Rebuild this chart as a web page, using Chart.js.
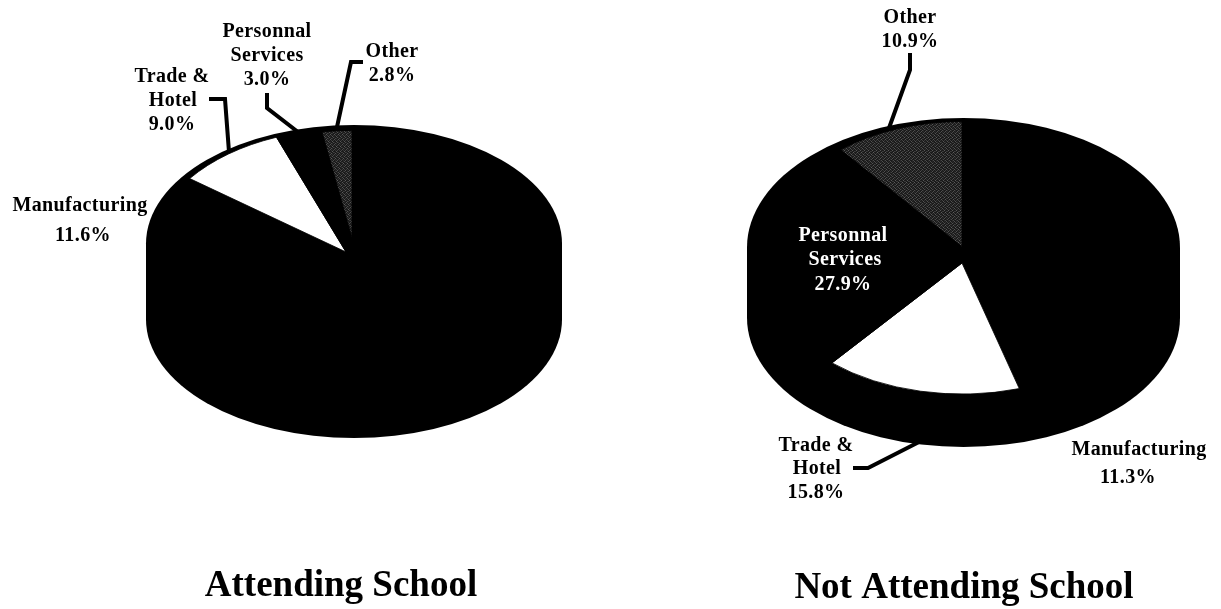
<!DOCTYPE html>
<html>
<head>
<meta charset="utf-8">
<title>Attending School / Not Attending School</title>
<script src="https://cdn.jsdelivr.net/npm/chart.js@4"></script>
<style>
  html, body { margin: 0; background: #fff; }
  body { position: relative; width: 1221px; height: 609px; overflow: hidden; }
  canvas { position: absolute; top: 0; }
</style>
</head>
<body>
<canvas id="attending" width="692" height="609" style="left:0"></canvas>
<canvas id="notAttending" width="518" height="609" style="left:703px"></canvas>
<script>
// slices run clockwise from 12 o'clock, the first one has no label in the picture
const categories = ["(unlabelled)", "Manufacturing", "Trade & Hotel", "Personnal Services", "Other"];
const attendingValues = [73.6, 11.6, 9.0, 3.0, 2.8];
const notAttendingValues = [34.1, 11.3, 15.8, 27.9, 10.9];
const chartTitles = ["Attending School", "Not Attending School"];

function speckle() {
  const c = document.createElement("canvas");
  c.width = c.height = 4;
  const g = c.getContext("2d");
  g.fillStyle = "#1a1a1a";
  g.fillRect(0, 0, 4, 4);
  g.fillStyle = "#5c5c5c";
  [[0, 0], [2, 1], [1, 2], [3, 3]].forEach(p => g.fillRect(p[0], p[1], 1, 1));
  return g.createPattern(c, "repeat");
}

const FONT = "bold 20px 'Liberation Serif'";

const pieLook = {
  attending: {
    tilt: 0.63, radius: 195, paddingBottom: 105,
    other: { dx: 6, dy: -22, radius: 171 },
    hull: { cx: 354, rx: 208, top: 125, bottom: 438, depth: 76 },
    leaders: [
      [[363, 62], [351, 62], [337, 127]],
      [[267, 93], [267, 108], [298, 132]],
      [[209, 99], [225, 99], [229, 152]]
    ],
    labels: [
      { cat: 1, lines: [["Manufacturing", 80, 211], ["%", 83, 241]] },
      { cat: 2, lines: [["Trade &", 172, 82], ["Hotel", 173, 106], ["%", 172, 130]] },
      { cat: 3, lines: [["Personnal", 267, 37], ["Services", 267, 61], ["%", 267, 85]] },
      { cat: 4, lines: [["Other", 392, 57], ["%", 392, 81]] }
    ],
    title: [341, 596]
  },
  notAttending: {
    tilt: 0.652, radius: 201, paddingBottom: 83,
    other: { dx: 0, dy: -25, radius: 192 },
    hull: { cx: 260.5, rx: 216.5, top: 118, bottom: 447, depth: 70 },
    leaders: [
      [[207, 53], [207, 70], [186, 128]],
      [[150, 468], [165, 468], [216, 442]]
    ],
    labels: [
      { cat: 1, lines: [["Manufacturing", 436, 455], ["%", 425, 483]] },
      { cat: 2, lines: [["Trade &", 113, 451], ["Hotel", 114, 474], ["%", 113, 498]] },
      { cat: 3, color: "#fff", lines: [["Personnal", 140, 241], ["Services", 142, 265], ["%", 140, 290]] },
      { cat: 4, lines: [["Other", 207, 23], ["%", 207, 47]] }
    ],
    title: [261, 598]
  }
};

const tiltedPie = {
  id: "tiltedPie",
  afterDatasetsUpdate(chart) {
    // the "Other" slice sits a little apart from the rest of the pie
    const look = pieLook[chart.canvas.id];
    const arcs = chart.getDatasetMeta(0).data, other = arcs[arcs.length - 1];
    other.x += look.other.dx;
    other.y += look.other.dy;
    other.outerRadius = look.other.radius;
  },
  beforeDatasetsDraw(chart) {
    const look = pieLook[chart.canvas.id], h = look.hull, ctx = chart.ctx;
    const ry = (h.bottom - h.top - h.depth) / 2, cy = h.top + ry;
    // extruded body of the pie
    ctx.save();
    ctx.fillStyle = "#000";
    ctx.beginPath();
    ctx.ellipse(h.cx, cy, h.rx, ry, 0, Math.PI, 0);
    ctx.ellipse(h.cx, cy + h.depth, h.rx, ry, 0, 0, Math.PI);
    ctx.closePath();
    ctx.fill();
    ctx.restore();
    // squash the slices into an ellipse
    const arc = chart.getDatasetMeta(0).data[0];
    ctx.save();
    ctx.translate(arc.x, arc.y);
    ctx.scale(1, look.tilt);
    ctx.translate(-arc.x, -arc.y);
  },
  afterDatasetsDraw(chart) {
    chart.ctx.restore();
  },
  afterDraw(chart) {
    const look = pieLook[chart.canvas.id], ctx = chart.ctx;
    const values = chart.data.datasets[0].data;
    ctx.save();
    ctx.strokeStyle = "#000";
    ctx.lineWidth = 4;
    ctx.lineJoin = "miter";
    look.leaders.forEach(path => {
      ctx.beginPath();
      path.forEach((p, i) => i ? ctx.lineTo(p[0], p[1]) : ctx.moveTo(p[0], p[1]));
      ctx.stroke();
    });
    ctx.textAlign = "center";
    ctx.textBaseline = "alphabetic";
    ctx.font = FONT;
    ctx.letterSpacing = "0.4px";
    look.labels.forEach(lab => {
      ctx.fillStyle = lab.color || "#000";
      lab.lines.forEach(l => {
        const text = l[0] === "%" ? values[lab.cat].toFixed(1) + "%" : l[0];
        ctx.fillText(text, l[1], l[2]);
      });
    });
    ctx.fillStyle = "#000";
    ctx.font = "bold 37px 'Liberation Serif'";
    ctx.letterSpacing = "0px";
    ctx.fillText(chart.options.plugins.tiltedPie.title, look.title[0], look.title[1]);
    ctx.restore();
  }
};

function makePie(id, values, title) {
  const look = pieLook[id];
  new Chart(id, {
    type: "pie",
    plugins: [tiltedPie],
    data: {
      labels: categories,
      datasets: [{
        data: values,
        backgroundColor: ["#000", "#000", "#fff", "#000", speckle()],
        borderColor: "#000",
        borderWidth: 1,
        radius: look.radius
      }]
    },
    options: {
      responsive: false,
      animation: false,
      layout: { padding: { bottom: look.paddingBottom } },
      plugins: {
        legend: { display: false },
        tooltip: { enabled: false },
        tiltedPie: { title: title }
      }
    }
  });
}

makePie("attending", attendingValues, chartTitles[0]);
makePie("notAttending", notAttendingValues, chartTitles[1]);
</script>
</body>
</html>
